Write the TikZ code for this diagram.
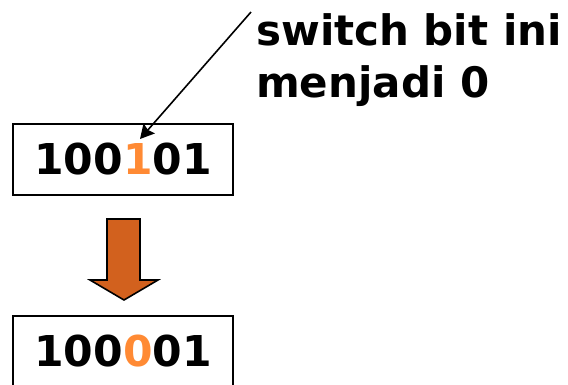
\documentclass[tikz,border=0pt]{standalone}
\usepackage{fontspec}
\setmainfont{DejaVu Sans}
\usetikzlibrary{arrows.meta}

\definecolor{bitorange}{RGB}{255,138,52}
\definecolor{panahfill}{RGB}{210,97,30}

\tikzset{
  bitbox/.style={draw, line width=2.2pt, minimum width=220pt, minimum height=71pt,
    inner sep=0pt, font=\bfseries\fontsize{42.5}{42.5}\selectfont},
  ket/.style={anchor=base west, inner sep=0pt, font=\bfseries\fontsize{42}{42}\selectfont},
  panah/.style={draw, line width=1.6pt, fill=panahfill, line join=miter}
}

\begin{document}
\begin{tikzpicture}[x=1pt,y=-1pt]

  \useasboundingbox (0,0) rectangle (568,384);

  % kotak bit sebelum dan sesudah
  \node[bitbox] (awal) at (123,159.5) {100\textcolor{bitorange}{1}01};
  \node[bitbox] (akhir) at (123,351.5) {100\textcolor{bitorange}{0}01};

  % keterangan
  \node[ket] (ket1) at (256,45) {switch bit ini};
  \node[ket] (ket2) at (256,97) {menjadi 0};

  % garis penunjuk ke bit yang diubah
  \coordinate (ujung) at (251,12);
  \coordinate (bit) at (140,139);
  \draw[line width=1.6pt, -{Stealth[length=14pt,width=15pt,inset=2pt]}] (ujung) -- (bit);

  % panah blok ke bawah
  \draw[panah] (107,219) -- (140,219) -- (140,280) -- (158,280) -- (124,300)
    -- (90,280) -- (107,280) -- cycle;

\end{tikzpicture}
\end{document}
